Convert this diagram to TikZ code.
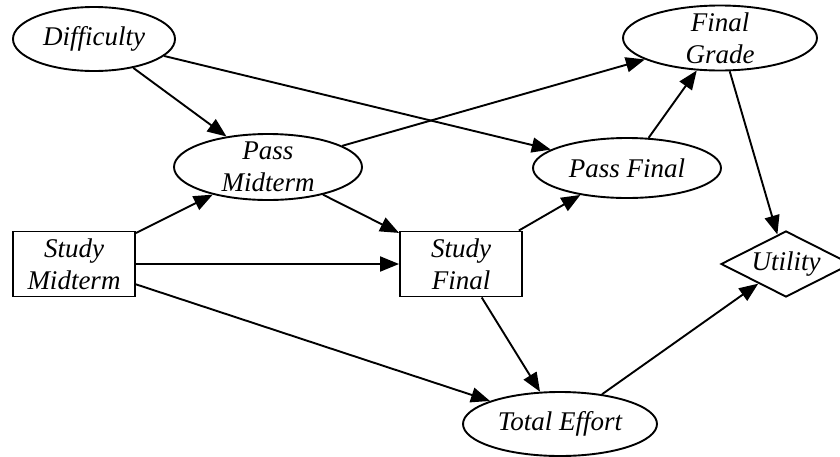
\documentclass[tikz,border=0pt]{standalone}
\usepackage{fontspec}
\setmainfont{Liberation Serif}
\usetikzlibrary{arrows.meta,shapes.geometric}
\tikzstyle{chance}=[ellipse,draw,line width=1.9pt,inner xsep=0pt,inner ysep=-10pt,align=center,font=\itshape\fontsize{27}{32}\selectfont]
\tikzstyle{decision}=[rectangle,draw,line width=1.9pt,inner sep=0pt,align=center,font=\itshape\fontsize{27}{32}\selectfont]
\tikzstyle{utility}=[diamond,draw,line width=1.9pt,inner sep=0pt,aspect=1.97,font=\itshape\fontsize{27}{32}\selectfont]
\tikzstyle{edge} = [draw,line width=1.9pt,-{Triangle[length=19pt,width=15pt]}]

\begin{document}
\begin{tikzpicture}[x=1pt,y=-1pt]
    \useasboundingbox (0,0) rectangle (840,456);
    % Draw the influence diagram
    % First the chance nodes
    \foreach \pos/\name/\txt/\w/\h in {{(94,39)/Diff/Difficulty/162/64}, {(720,38)/Grade/Final\\Grade/194/65}, {(268,167)/PassM/Pass\\Midterm/188/66}, {(627,168)/PassF/Pass Final/188/60}, {(560,424)/Effort/Total Effort/194/64}}
        \node[chance,minimum width=\w pt,minimum height=\h pt] (\name) at \pos {\txt};
    % then the decisions and the utility
    \foreach \pos/\name/\txt in {{(74,264)/StudyM/Study\\Midterm}, {(461,264)/StudyF/Study\\Final}}
        \node[decision,minimum width=122pt,minimum height=65pt] (\name) at \pos {\txt};
    \node[utility,minimum width=130pt,minimum height=66pt] (Util) at (786,264) {Utility};
    % Connect nodes with arrows
    \foreach \source/ \dest in {Diff/PassM, Diff/PassF, PassM/Grade, PassM/StudyF, StudyM/PassM, StudyM/StudyF, StudyM/Effort, StudyF/PassF, StudyF/Effort, PassF/Grade, Grade/Util, Effort/Util}
        \path[edge] (\source) -- (\dest) ;

\end{tikzpicture}
\end{document}
